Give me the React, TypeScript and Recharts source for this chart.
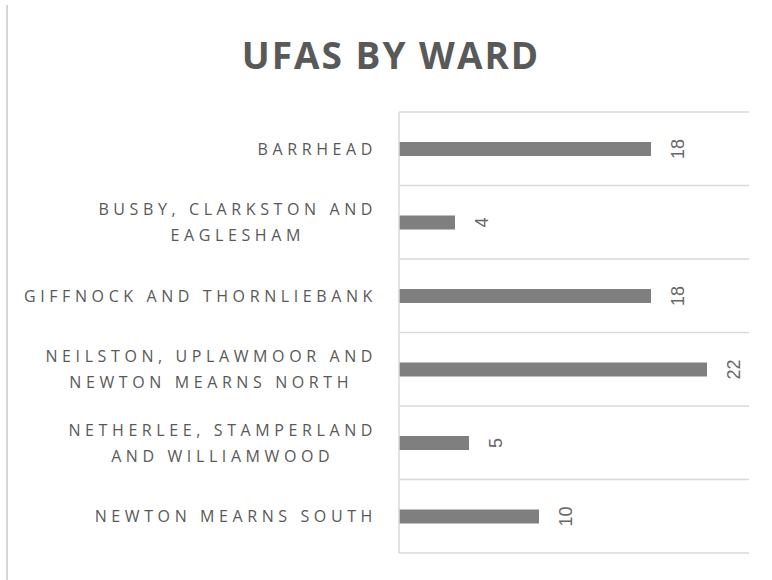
import { BarChart, Bar, XAxis, YAxis, CartesianGrid, LabelList } from 'recharts'

const wards = [
  'BARRHEAD',
  'BUSBY, CLARKSTON AND\nEAGLESHAM',
  'GIFFNOCK AND THORNLIEBANK',
  'NEILSTON, UPLAWMOOR AND\nNEWTON MEARNS NORTH',
  'NETHERLEE, STAMPERLAND\nAND WILLIAMWOOD',
  'NEWTON MEARNS SOUTH',
]
const ufas = [18, 4, 18, 22, 5, 10]

const data = wards.map((ward, i) => ({ ward, ufas: ufas[i] }))

const GREY = '#595959'
const GRID = '#d9d9d9'

function WardTick({ x, y, payload }: any) {
  const lines: string[] = String(payload.value).split('\n')
  return (
    <foreignObject x={x - 380} y={y - 40} width={380} height={80}>
      <div
        style={{
          height: 80,
          display: 'flex',
          alignItems: 'center',
          justifyContent: 'flex-end',
        }}
      >
        <div
          style={{
            textAlign: 'center',
            fontFamily: '"Open Sans", sans-serif',
            fontSize: 16,
            letterSpacing: 4.6,
            lineHeight: '26px',
            color: GREY,
            whiteSpace: 'nowrap',
          }}
        >
          {lines.map((l, i) => (
            <div key={i}>{l}</div>
          ))}
        </div>
      </div>
    </foreignObject>
  )
}

function ValueLabel({ x, y, width, height, value }: any) {
  const cx = x + width + 27
  const cy = y + height / 2
  return (
    <text
      x={cx}
      y={cy}
      transform={`rotate(-90, ${cx}, ${cy})`}
      textAnchor="middle"
      dominantBaseline="central"
      fontFamily='"Liberation Sans", Arial, sans-serif'
      fontSize={18}
      fill="#666"
    >
      {value}
    </text>
  )
}

export default function App() {
  return (
    <div style={{ position: 'relative', width: 764, height: 572, background: '#fff' }}>
      {/* left edge of the chart frame */}
      <div
        style={{
          position: 'fixed',
          left: 6,
          top: 5,
          width: 2,
          height: 575,
          background: '#d6d6d6',
          zIndex: 2,
        }}
      />
      <div
        style={{
          position: 'absolute',
          left: -1,
          top: 21,
          width: 768,
          textAlign: 'center',
          fontFamily: '"Open Sans", sans-serif',
          fontWeight: 700,
          fontSize: 37,
          letterSpacing: 2,
          color: GREY,
        }}
      >
        UFAS BY WARD
      </div>
      <div style={{ position: 'absolute', left: -1, top: -3 }}>
        <BarChart
          width={765}
          height={575}
          data={data}
          layout="vertical"
          margin={{ top: 107, right: 23, bottom: 27, left: 0 }}
        >
          <CartesianGrid
            vertical={false}
            stroke={GRID}
            strokeWidth={1.5}
            horizontalCoordinatesGenerator={({ offset }: any) =>
              wards.concat(['']).map((_, i) => offset.top + (i * offset.height) / wards.length)
            }
          />
          <XAxis type="number" domain={[0, 25]} hide />
          <YAxis
            type="category"
            dataKey="ward"
            width={392}
            axisLine={{ stroke: GRID, strokeWidth: 1.5 }}
            tickLine={false}
            tickMargin={16}
            tick={<WardTick />}
            interval={0}
          />
          <Bar dataKey="ufas" fill="#7f7f7f" barSize={14} isAnimationActive={false}>
            <LabelList dataKey="ufas" content={<ValueLabel />} />
          </Bar>
        </BarChart>
      </div>
    </div>
  )
}
